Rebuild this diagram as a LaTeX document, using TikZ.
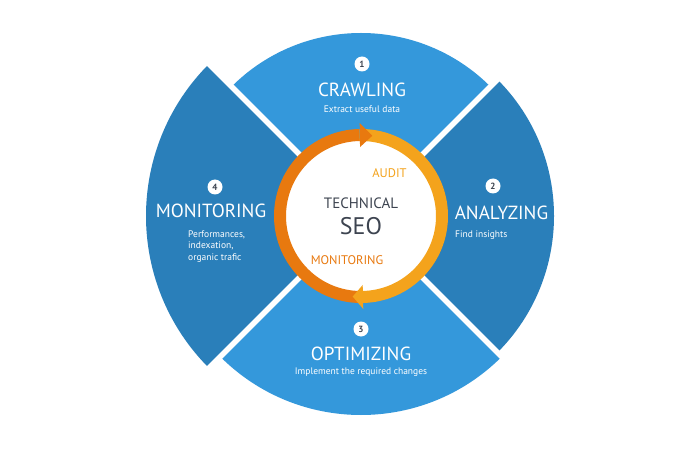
\documentclass[tikz,border=0pt]{standalone}
\usepackage{fontspec}
\setmainfont{PT Sans}
\definecolor{blueL}{HTML}{3498DB}
\definecolor{blueD}{HTML}{2A7FBA}
\definecolor{orD}{HTML}{E8790F}
\definecolor{orL}{HTML}{F4A31C}
\definecolor{txtD}{HTML}{3D4450}
\begin{document}
\begin{tikzpicture}[x=1pt,y=1pt,
  title/.style={text=white, font=\fontsize{19}{19}\selectfont, anchor=base, inner sep=0pt},
  sub/.style={text=white, font=\fontsize{9.5}{11.5}\selectfont, anchor=base, inner sep=0pt},
  numc/.style={circle, fill=white, minimum size=15pt, inner sep=0pt, text=txtD, font=\fontsize{9}{9}\selectfont\bfseries},
  gap/.style={white, line width=5.5pt},
  ring/.style={line width=12pt},
  ctext/.style={anchor=base, inner sep=0pt}]
\fill[white] (0,0) rectangle (700,450);
\useasboundingbox (0,0) rectangle (700,450);
\coordinate (c) at (361,234);
% segments
\fill[blueL] (c) -- ++(45:183) arc[start angle=45,end angle=135,radius=183] -- cycle;
\fill[blueD] (c) -- ++(135:215) arc[start angle=135,end angle=225,radius=215] -- cycle;
\fill[blueL] (c) -- ++(225:199) arc[start angle=225,end angle=315,radius=199] -- cycle;
\fill[blueD] (c) -- ++(-45:193) arc[start angle=-45,end angle=45,radius=193] -- cycle;
% gaps
\draw[gap] (c) -- ++(45:240);
\draw[gap] (c) -- ++(135:240);
\draw[gap] (c) -- ++(225:240);
\draw[gap] (c) -- ++(315:240);
% inner circle and ring
\fill[white] (c) circle[radius=76];
\draw[ring, orD] (c) ++(91:81) arc[start angle=91,end angle=270,radius=81];
\draw[ring, orL] (c) ++(-89:81) arc[start angle=-89,end angle=91,radius=81];
\fill[orL] ([shift={(-88.6:93)}]c) -- ([shift={(-88.6:69)}]c) -- ([shift={(-95.9:81)}]c) -- cycle;
\fill[orD] ([shift={(90.8:93)}]c) -- ([shift={(90.8:69)}]c) -- ([shift={(82:81)}]c) -- cycle;
% segment texts
\node[numc] (n1) at (362,386) {1};
\node[title] (t1) at (362,353) {CRAWLING};
\node[sub] (s1) at (362,337) {Extract useful data};
\node[numc] (n2) at (493,264) {2};
\node[title] (t2) at (501.5,230) {ANALYZING};
\node[sub, anchor=base west] (s2) at (455,212) {Find insights};
\node[numc] (n3) at (361,121) {3};
\node[title] (t3) at (361,89.3) {OPTIMIZING};
\node[sub] (s3) at (361,75.5) {Implement the required changes};
\node[numc] (n4) at (215,263) {4};
\node[title] (t4) at (211,232) {MONITORING};
\node[sub, anchor=base west] (s4a) at (188,213) {Performances,};
\node[sub, anchor=base west] (s4b) at (188,201.5) {indexation,};
\node[sub, anchor=base west] (s4c) at (188,190) {organic trafic};
% center texts
\node[ctext, text=txtD, font=\fontsize{15}{15}\selectfont] (tech) at (361,241.7) {TECHNICAL};
\node[ctext, text=txtD, font=\fontsize{24}{24}\selectfont] (seo) at (361,215) {SEO};
\node[ctext, text=orL, font=\fontsize{12.5}{12.5}\selectfont] (audit) at (389.5,272.7) {AUDIT};
\node[ctext, text=orD, font=\fontsize{12.5}{12.5}\selectfont] (mon) at (347,186) {MONITORING};
\end{tikzpicture}
\end{document}
